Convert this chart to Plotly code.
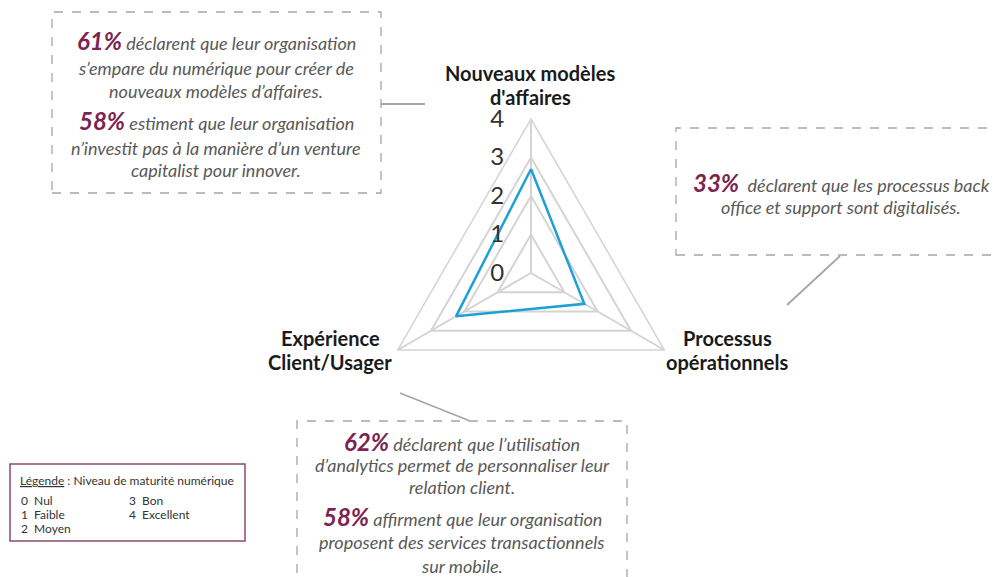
import plotly.graph_objects as go

# données du radar
axes = ["Nouveaux modèles d'affaires", "Processus opérationnels", "Expérience Client/Usager"]
scores = [2.7, 1.6, 2.25]
tick_vals = [0, 1, 2, 3, 4]

# textes des encadrés
box1_lines = [("61%", " déclarent que leur organisation"),
              ("", "s’empare du numérique pour créer de"),
              ("", "nouveaux modèles d’affaires."),
              ("58%", " estiment que leur organisation"),
              ("", "n’investit pas à la manière d’un venture"),
              ("", "capitalist pour innover.")]
box2_lines = [("33%", "  déclarent que les processus back"),
              ("", "office et support sont digitalisés.")]
box3_lines = [("62%", " déclarent que l’utilisation"),
              ("", "d’analytics permet de personnaliser leur"),
              ("", "relation client."),
              ("58%", " affirment que leur organisation"),
              ("", "proposent des services transactionnels"),
              ("", "sur mobile.")]
legend_left = ["0  Nul", "1  Faible", "2  Moyen"]
legend_right = ["3  Bon", "4  Excellent"]

W, H = 1003, 577
OFF = 8  # marge du body html
FONT = "Lato"
MAROON = "#7B2452"
GREY_TXT = "#595959"


def px(x):
    return (x - OFF) / W


def py(y):
    return 1 - (y - OFF) / H


fig = go.Figure()
fig.add_trace(go.Scatterpolar(r=scores + scores[:1], theta=axes + axes[:1], mode="lines",
                              line=dict(color="#1CA0D6", width=2.5), showlegend=False,
                              hoverinfo="skip"))

cx, cy, R = 531, 273, 154
fig.update_layout(
    width=W, height=H, margin=dict(l=0, r=0, t=0, b=0),
    paper_bgcolor="white", plot_bgcolor="white", showlegend=False,
    polar=dict(
        domain=dict(x=[px(cx - R), px(cx + R)], y=[py(cy + R), py(cy - R)]),
        gridshape="linear", bgcolor="white",
        radialaxis=dict(range=[0, 4], tickvals=tick_vals, angle=90, tickangle=90,
                        side="counterclockwise", showline=False,
                        ticks="outside", ticklen=18, tickcolor="rgba(0,0,0,0)",
                        gridcolor="#D4D4D4", gridwidth=1.5,
                        tickfont=dict(family=FONT, size=24, color="#333333")),
        angularaxis=dict(rotation=90, direction="clockwise", showticklabels=False, ticks="",
                         showline=True, linecolor="#D4D4D4", linewidth=1.5,
                         gridcolor="#D4D4D4", gridwidth=1.5),
    ),
)

annotations = []
shapes = []


def label(txt, x, y, size, color, xanchor="center"):
    annotations.append(dict(x=px(x), y=py(y), xref="paper", yref="paper", text=txt,
                            showarrow=False, xanchor=xanchor, yanchor="middle",
                            font=dict(family=FONT, size=size, color=color)))


# libellés des axes
axis_labels = [("Nouveaux modèles", 530, 73), ("d'affaires", 530, 97),
               ("Processus", 727, 338), ("opérationnels", 727, 362),
               ("Expérience", 330, 338), ("Client/Usager", 330, 362)]
for txt, x, y in axis_labels:
    label("<b>" + txt + "</b>", x, y, 20, "#1a1a1a")


def add_box(lines, ys, xc, x0, x1, y0, y1):
    shapes.append(dict(type="rect", xref="paper", yref="paper", x0=px(x0), x1=px(x1),
                       y0=py(y1), y1=py(y0), line=dict(color="#A6A6A6", width=1.3, dash="dash")))
    for (pct, txt), y in zip(lines, ys):
        s = ""
        if pct:
            s += f"<span style='font-size:24px;color:{MAROON}'><b><i>{pct}</i></b></span>"
            y -= 2
        else:
            y -= 1
        s += f"<i>{txt}</i>"
        label(s, xc, y, 18, GREY_TXT)


add_box(box1_lines, [43, 69, 92, 122, 149, 171], 216, 52, 381, 12, 193)
add_box(box2_lines, [184, 208], 841, 676, 1002, 128, 255)
add_box(box3_lines, [443, 466, 488, 518, 543, 567], 462, 297, 627, 421, 590)

# traits de liaison
for x0, y0, x1, y1 in [(381, 104, 425, 104), (840, 256, 787, 305), (470, 421, 400, 393)]:
    shapes.append(dict(type="line", xref="paper", yref="paper", x0=px(x0), y0=py(y0),
                       x1=px(x1), y1=py(y1), line=dict(color="#A6A6A6", width=1.8)))

# légende
shapes.append(dict(type="rect", xref="paper", yref="paper", x0=px(10), x1=px(245),
                   y0=py(541), y1=py(464), line=dict(color="#8E4A6E", width=1.5)))
label("<u>Légende</u> : Niveau de maturité numérique", 18, 480, 12, "#333333", "left")
for i, t in enumerate(legend_left):
    label(t, 19, 500 + 14 * i, 12, "#333333", "left")
for i, t in enumerate(legend_right):
    label(t, 127, 500 + 14 * i, 12, "#333333", "left")

fig.update_layout(annotations=annotations, shapes=shapes)
fig.write_html("out.html")
